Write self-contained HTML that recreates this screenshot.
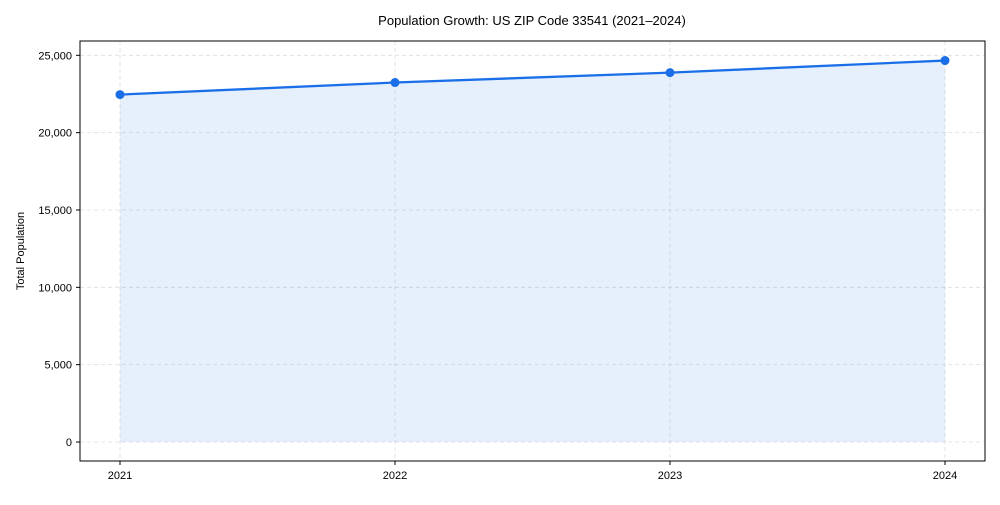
<!DOCTYPE html>
<html><head><meta charset="utf-8"><style>
body{margin:0;background:#fff;font-family:"Liberation Sans",Arial,sans-serif}
svg text{font-family:"Liberation Sans",Arial,sans-serif;fill:#000}
</style></head><body>
<svg id="c" width="1000" height="500"></svg>
<script>
const years=["2021","2022","2023","2024"];
const population=[22460,23240,23880,24660];
const yTicks=[0,5000,10000,15000,20000,25000];
const yTickLabels=["0","5,000","10,000","15,000","20,000","25,000"];
const svg=document.getElementById('c');
const NS='http://www.w3.org/2000/svg';
const L=80,R=985,T=41,B=461;
const x0=120,x1=945;
const xs=i=>x0+(x1-x0)*i/(years.length-1);
const ys=v=>442-v*(442-55.3)/25000;
function mk(t,a,p){const e=document.createElementNS(NS,t);for(const k in a)e.setAttribute(k,a[k]);(p||svg).appendChild(e);return e;}
const title=mk('text',{x:532,y:25,'text-anchor':'middle','font-size':13});
title.textContent='Population Growth: US ZIP Code 33541 (2021–2024)';


// grid
yTicks.forEach((v,i)=>{
 const g=mk('line',{x1:L,x2:R,y1:ys(v),y2:ys(v),stroke:'#ddd','stroke-dasharray':'4,3','stroke-width':0.8});
 
 
 mk('line',{x1:L-4,x2:L,y1:ys(v),y2:ys(v),stroke:'#000'});
 const t=mk('text',{x:L-8,y:ys(v)+4,'text-anchor':'end','font-size':11});
 t.textContent=yTickLabels[i];
 
 
});
years.forEach((y,i)=>{
 const g=mk('line',{x1:xs(i),x2:xs(i),y1:T,y2:B,stroke:'#ddd','stroke-dasharray':'4,3','stroke-width':0.8});
 
 
 mk('line',{x1:xs(i),x2:xs(i),y1:B,y2:B+4,stroke:'#000'});
 const t=mk('text',{x:xs(i),y:B+18,'text-anchor':'middle','font-size':11});
 t.textContent=y;
 
 
});
// area
let d='M'+xs(0)+','+ys(0);
population.forEach((v,i)=>d+=' L'+xs(i)+','+ys(v));
d+=' L'+xs(years.length-1)+','+ys(0)+' Z';
const area=mk('path',{d:d,fill:'#1a73e8','fill-opacity':0.11});


const line=mk('polyline',{points:population.map((v,i)=>xs(i)+','+ys(v)).join(' '),fill:'none',stroke:'#1a6fe8','stroke-width':2.3});


population.forEach((v,i)=>{
 const c=mk('circle',{cx:xs(i),cy:ys(v),r:4.5,fill:'#1a6fe8'});
 
 
});
const frame=mk('rect',{x:L,y:T,width:R-L,height:B-T,fill:'none',stroke:'#000','stroke-width':1});


const yl=mk('text',{x:0,y:0,'text-anchor':'middle','font-size':11,transform:'translate(24,251) rotate(-90)'});
yl.textContent='Total Population';


</script>
</body></html>
